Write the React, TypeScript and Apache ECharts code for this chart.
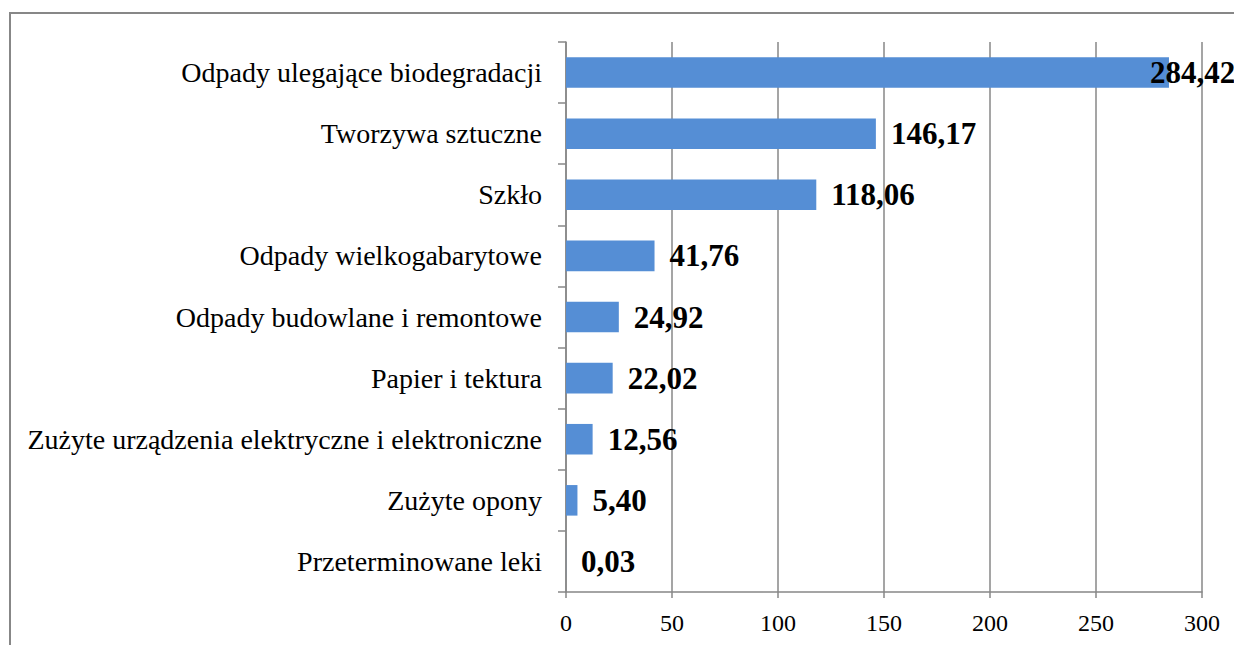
import React, { useEffect, useRef } from "react";
import * as echarts from "echarts";

const categories = [
  "Odpady ulegające biodegradacji",
  "Tworzywa sztuczne",
  "Szkło",
  "Odpady wielkogabarytowe",
  "Odpady budowlane i remontowe",
  "Papier i tektura",
  "Zużyte urządzenia elektryczne i elektroniczne",
  "Zużyte opony",
  "Przeterminowane leki",
];
const values = [284.42, 146.17, 118.06, 41.76, 24.92, 22.02, 12.56, 5.4, 0.03];
const xTicks = [0, 50, 100, 150, 200, 250, 300];

export default function App() {
  const ref = useRef<HTMLDivElement>(null);
  useEffect(() => {
    if (!ref.current) return;
    const chart = echarts.init(ref.current, null, { renderer: "svg" });
    const font = "Liberation Serif";
    chart.setOption({
      animation: false,
      backgroundColor: "#ffffff",
      textStyle: { fontFamily: font },
      graphic: [
        {
          type: "rect",
          shape: { x: 10, y: 13, width: 1400, height: 800 },
          style: { fill: "none", stroke: "#878787", lineWidth: 2 },
          silent: true,
        },
      ],
      grid: { left: 566, right: 32, top: 42, bottom: 53, containLabel: false },
      xAxis: {
        type: "value",
        min: xTicks[0],
        max: xTicks[xTicks.length - 1],
        interval: 50,
        axisLine: { show: true, lineStyle: { color: "#878787", width: 1.5 } },
        axisTick: { show: true, length: 6, lineStyle: { color: "#878787", width: 1.5 } },
        splitLine: { show: true, lineStyle: { color: "#878787", width: 1.5 } },
        axisLabel: {
          fontFamily: font,
          fontSize: 24,
          color: "#000",
          margin: 19,
          formatter: (v: number) => String(v),
        },
      },
      yAxis: {
        type: "category",
        data: categories,
        inverse: true,
        axisLine: { show: true, lineStyle: { color: "#878787", width: 1.5 } },
        axisTick: { show: true, length: 8, lineStyle: { color: "#878787", width: 1.5 } },
        axisLabel: {
          fontFamily: font,
          fontSize: 28,
          color: "#000",
          margin: 24,
        },
      },
      series: [
        {
          type: "bar",
          data: values.map((v, i) =>
            i === 0
              ? { value: v, label: { offset: [-34, 0] } }
              : { value: v }
          ),
          barCategoryGap: "50%",
          itemStyle: { color: "#558ED5" },
          label: {
            show: true,
            position: "right",
            distance: 15,
            fontFamily: font,
            fontSize: 31,
            fontWeight: "bold",
            color: "#000",
            formatter: (p: any) => p.value.toFixed(2).replace(".", ","),
          },
        },
      ],
    });
    return () => chart.dispose();
  }, []);
  return (
    <div
      ref={ref}
      style={{ position: "fixed", left: 0, top: 0, width: 1234, height: 645 }}
    />
  );
}
